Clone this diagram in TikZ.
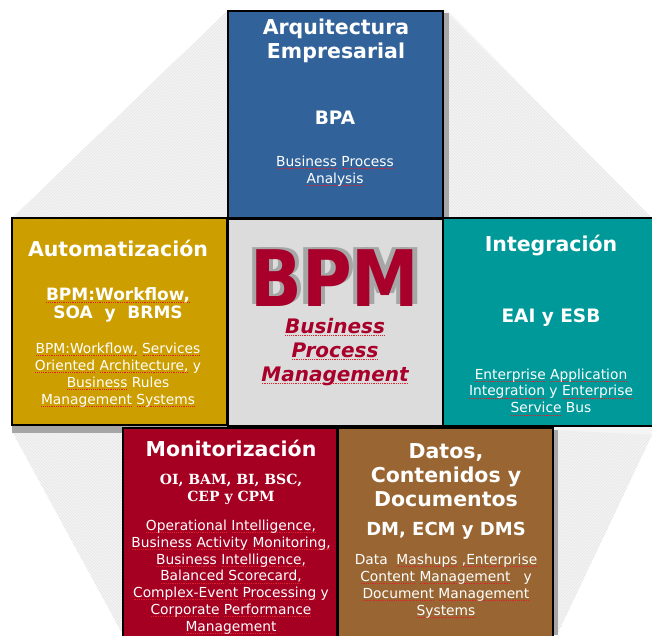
\documentclass[tikz,border=0pt]{standalone}
\usepackage{fontspec}
\setmainfont{DejaVu Sans}
\newfontfamily\serifbold{DejaVu Serif}
\usetikzlibrary{patterns}
\definecolor{cblue}{HTML}{31639A}
\definecolor{cgold}{HTML}{CC9E00}
\definecolor{cteal}{HTML}{009999}
\definecolor{cred}{HTML}{A50021}
\definecolor{cbrown}{HTML}{996633}
\definecolor{ccenter}{HTML}{DCDCDC}
\definecolor{bpmred}{HTML}{A8002A}
\definecolor{hatchbg}{HTML}{F4F4F4}
\definecolor{spellred}{HTML}{E0202A}
\newcommand{\spk}[1]{\setbox0\hbox{#1}\rlap{\raisebox{-2.6pt}{\textcolor{spellred}{\hbox to \wd0{\xleaders\hbox to 1.8pt{\hss\rule{1pt}{0.8pt}\hss}\hfill}}}}#1}
\tikzset{
  box/.style={draw=black, line width=1.6pt, inner sep=0pt},
  ttl/.style={text=white, align=center, inner sep=0pt, font=\bfseries\fontsize{20.5}{24}\selectfont},
  subttl/.style={text=white, align=center, inner sep=0pt, font=\bfseries\fontsize{17}{18}\selectfont},
  small/.style={text=white, align=center, inner sep=0pt, font=\fontsize{13.8}{16.8}\selectfont},
  shade/.style={fill=gray!70, draw=none},
}
\begin{document}
\begin{tikzpicture}[x=1pt,y=-1pt]
\useasboundingbox (0,0) rectangle (652,635);
% hatched octagon corners
\fill[hatchbg] (228,10) -- (447,10) -- (652,218) -- (652,435) -- (557,635) -- (123,635) -- (12,432) -- (12,218) -- cycle;
\fill[pattern=north east lines, pattern color=gray!20] (228,10) -- (12,218) -- (228,218) -- cycle;
\fill[pattern=north west lines, pattern color=gray!20] (443,10) -- (652,218) -- (443,218) -- cycle;
\fill[pattern=north west lines, pattern color=gray!20] (12,430) -- (123,635) -- (123,430) -- cycle;
\fill[pattern=north east lines, pattern color=gray!20] (553,430) -- (652,435) -- (557,635) -- (553,635) -- cycle;
% shadows
\fill[shade] (443,13) rectangle (449,218);
\fill[shade] (12,425) rectangle (227,433);
\fill[shade] (553,430) rectangle (558,635);
% boxes
\node[box, fill=cblue, minimum width=215pt, minimum height=207pt] (arq) at (335.5,114.5) {};
\node[box, fill=cgold, minimum width=215pt, minimum height=207pt] (aut) at (119.5,321.5) {};
\node[box, fill=ccenter, minimum width=215pt, minimum height=207pt] (cen) at (335.5,322.5) {};
\node[box, fill=cteal, minimum width=212pt, minimum height=208pt] (int) at (549,322) {};
\node[box, fill=cred, minimum width=214pt, minimum height=209pt] (mon) at (230,532.5) {};
\node[box, fill=cbrown, minimum width=215pt, minimum height=209pt] (dat) at (445.5,532.5) {};
% Arquitectura
\node[ttl] (arqT) at (336,41) {Arquitectura\\Empresarial};
\node[subttl, font=\bfseries\fontsize{18.5}{20}\selectfont] (arqS) at (335,118) {BPA};
\node[small] (arqD) at (335,171) {\spk{Business} \spk{Process}\\\spk{Analysis}};
% Automatizacion
\node[ttl] (autT) at (118,248) {Automatización};
\node[subttl] (autS) at (118,305) {\spk{BPM:Workflow,}\\SOA~~y~~BRMS};
\node[small] (autD) at (118,375) {\spk{BPM:Workflow,} \spk{Services}\\\spk{Oriented} \spk{Architecture,} y\\\spk{Business} Rules\\\spk{Management} \spk{Systems}};
% Integracion
\node[ttl] (intT) at (551,246) {Integración};
\node[subttl, font=\bfseries\fontsize{18.5}{20}\selectfont] (intS) at (551,318) {EAI y ESB};
\node[small] (intD) at (551,392) {\spk{Enterprise} \spk{Application}\\\spk{Integration} y \spk{Enterprise}\\\spk{Service} Bus};
% Center BPM (grey relief behind the red letters)
\node[text=bpmred, inner sep=0pt, font=\bfseries\fontsize{78}{78}\selectfont] (bpm) at (335,277)
  {\scalebox{0.87}[1]{\rlap{\kern-5pt\raisebox{2pt}{\textcolor{gray!70}{BPM}}}\rlap{\kern5pt\raisebox{2pt}{\textcolor{gray!70}{BPM}}}BPM}};
\node[text=bpmred, align=center, inner sep=0pt, font=\bfseries\itshape\fontsize{20}{24}\selectfont] (bpmD) at (335,352) {\spk{Business}\\\spk{Process}\\\spk{Management}};
% Monitorizacion
\node[ttl] (monT) at (231,448) {Monitorización};
\node[text=white, align=center, inner sep=0pt, font=\serifbold\bfseries\fontsize{14}{17}\selectfont] (monS) at (231,489) {OI, BAM, BI, BSC,\\CEP y CPM};
\node[small] (monD) at (231,577) {\spk{Operational} \spk{Intelligence,}\\\spk{Business} \spk{Activity} \spk{Monitoring,}\\\spk{Business} \spk{Intelligence,}\\\spk{Balanced} \spk{Scorecard,}\\\spk{Complex-Event} \spk{Processing} y\\\spk{Corporate} \spk{Performance}\\\spk{Management}};
% Datos
\node[ttl] (datT) at (446,475) {Datos,\\Contenidos y\\Documentos};
\node[subttl, font=\bfseries\fontsize{18}{19}\selectfont] (datS) at (446,531) {DM, ECM y DMS};
\node[small] (datD) at (446,586) {Data~ \spk{Mashups} \spk{,Enterprise}\\\spk{Content} \spk{Management}~~ y\\\spk{Document} \spk{Management}\\\spk{Systems}};
\end{tikzpicture}
\end{document}
